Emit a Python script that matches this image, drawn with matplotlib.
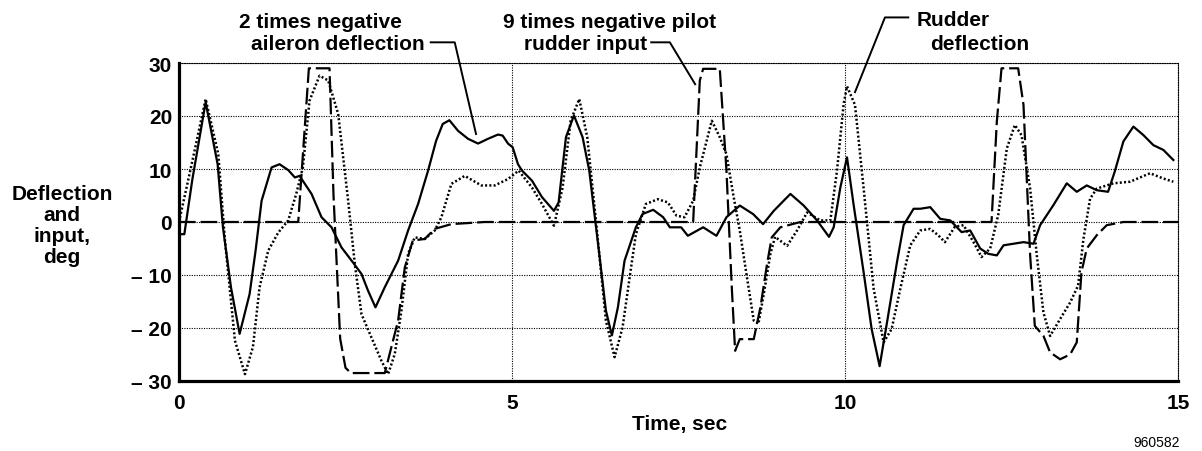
import numpy as np
import matplotlib
matplotlib.use("Agg")
import matplotlib.pyplot as plt
from matplotlib.ticker import FuncFormatter

plt.rcParams['font.family'] = ['Liberation Sans', 'DejaVu Sans']

# 2 times negative aileron deflection (solid)
aileron_t = [0, 0.08, 0.2, 0.4, 0.58, 0.66, 0.78, 0.91, 1.06, 1.15, 1.24, 1.39, 1.51,
             1.64, 1.74, 1.81, 1.99, 2.14, 2.29, 2.44, 2.61, 2.74, 2.84, 2.95, 3.09,
             3.29, 3.44, 3.59, 3.74, 3.86, 3.96, 4.06, 4.19, 4.34, 4.49, 4.64, 4.79,
             4.86, 4.94, 5.01, 5.09, 5.15, 5.3, 5.45, 5.63, 5.7, 5.81, 5.93, 6.06,
             6.16, 6.31, 6.41, 6.5, 6.59, 6.69, 6.86, 6.96, 7.12, 7.27, 7.37, 7.54,
             7.64, 7.87, 8.07, 8.22, 8.42, 8.62, 8.77, 8.93, 9.18, 9.38, 9.58, 9.76,
             9.83, 9.93, 10.03, 10.13, 10.28, 10.4, 10.52, 10.63, 10.78, 10.88, 11.03,
             11.13, 11.28, 11.43, 11.58, 11.75, 11.88, 12.03, 12.15, 12.28, 12.38,
             12.53, 12.68, 12.83, 12.93, 13.13, 13.33, 13.48, 13.63, 13.78, 13.95,
             14.05, 14.18, 14.33, 14.48, 14.63, 14.78, 14.93]
aileron_v = [-2.3, -2.3, 8, 22.6, 10.9, -1, -12.3, -21.1, -13.6, -5.4, 4, 10.3, 10.9,
             9.8, 8.4, 8.7, 5.3, 0.9, -1, -4.8, -7.6, -9.8, -13, -16.1, -12.3,
             -7.3, -1.6, 3.4, 9.7, 15.3, 18.5, 19.2, 17.2, 15.7, 14.8, 15.7, 16.5,
             16.3, 14.8, 14.1, 10.9, 9.7, 7.8, 4.7, 2.1, 3.7, 16, 20.1, 16,
             9.7, -6, -16.7, -21.4, -16.1, -7.3, -1, 1.5, 2.3, 0.9, -1, -1,
             -2.6, -1, -2.6, 0.9, 3.1, 1.5, -0.4, 2.1, 5.3, 3.1, 0.3, -2.8,
             -1, 6.5, 12.2, 3.2, -9.5, -20.2, -27.2, -19, -7.6, -0.6, 2.5,
             2.5, 2.8, 0.6, 0.3, -1.9, -1.6, -5, -6, -6.3, -4.4,
             -4.1, -3.8, -4.1, -0.6, 3.2, 7.3, 5.7, 6.9, 6, 5.7,
             9.5, 15.2, 18, 16.4, 14.5, 13.6, 11.7]

# Rudder deflection (dotted)
rudder_t = [0, 0.19, 0.4, 0.59, 0.69, 0.84, 0.99, 1.11, 1.21, 1.34, 1.49, 1.64, 1.76,
            1.86, 1.96, 2.11, 2.24, 2.39, 2.54, 2.64, 2.74, 2.89, 3.04, 3.14, 3.24,
            3.34, 3.44, 3.54, 3.69, 3.84, 3.94, 4.09, 4.29, 4.54, 4.74, 4.94, 5.1,
            5.3, 5.45, 5.63, 5.76, 5.88, 6.01, 6.13, 6.26, 6.41, 6.54, 6.66, 6.76,
            6.86, 7.01, 7.19, 7.34, 7.47, 7.59, 7.72, 7.82, 8.0, 8.12, 8.22, 8.32,
            8.42, 8.52, 8.63, 8.7, 8.78, 8.88, 8.95, 9.13, 9.28, 9.43, 9.63, 9.78,
            9.88, 9.98, 10.03, 10.15, 10.28, 10.43, 10.58, 10.7, 10.83, 10.98, 11.13,
            11.28, 11.4, 11.5, 11.65, 11.78, 11.93, 12.05, 12.18, 12.3, 12.43, 12.55,
            12.65, 12.78, 12.88, 12.98, 13.08, 13.23, 13.38, 13.5, 13.58, 13.68,
            13.78, 14.03, 14.28, 14.58, 14.78, 14.93]
rudder_v = [0, 10.9, 23.2, 12.8, -3.5, -22.4, -28.7, -23.6, -12.3, -5.4, -2, 0.3, 5.3,
            10.3, 22.9, 27.6, 26.7, 20.4, 4, -7.9, -17.4, -21.8, -26.2, -28.7, -24.9,
            -16.7, -6, -2.9, -3.2, -1.6, 0.9, 7.2, 8.7, 6.9, 6.9, 8.1, 9.7,
            6.5, 3.4, -0.7, 6.5, 19.1, 23.2, 16, 0.3, -18.6, -25.5, -19.9, -11,
            -2.3, 3.4, 4.3, 3.7, 1.2, 0.9, 4, 10.3, 19.1, 16, 12.8, 5.3,
            -1.6, -9.8, -18.6, -19.2, -13.6, -6, -2.8, -4.5, -1.6, 1.8, 0.3, 0.3,
            9.7, 22.3, 25.6, 22.1, 6.3, -12.6, -22.7, -20.2, -12.6, -4.4, -1.6,
            -1.3, -2.5, -3.8, -0.9, -0.6, -3.8, -6.6, -5, 1.3, 13.9, 18.3,
            16.4, 6.3, -6.3, -17.1, -21.5, -18.3, -15.2, -12, -3.2, 4.4,
            6.3, 7.3, 7.6, 9.2, 8.2, 7.6]

# 9 times negative pilot rudder input (dashed)
pilot_t = [0, 1.79, 1.95, 2.26, 2.32, 2.42, 2.5, 2.58, 3.09, 3.29, 3.39, 3.51, 3.69,
           3.84, 4.09, 4.59, 7.72, 7.82, 7.87, 8.12, 8.22, 8.3, 8.35, 8.42, 8.63,
           8.73, 8.83, 8.9, 9.03, 9.33, 12.2, 12.28, 12.35, 12.6, 12.68, 12.78,
           12.85, 12.98, 13.08, 13.23, 13.38, 13.48, 13.55, 13.63, 13.78, 13.93,
           14.18, 15.0]
pilot_v = [0, 0, 29, 29, 5, -22, -27.5, -28.5, -28.5, -18.6, -8.6, -3.5, -3.2,
           -1.3, -0.4, 0, 0, 26.7, 28.9, 28.9, 9.7, -12.3, -24.3, -22.1, -22.1,
           -16.1, -7.9, -2.9, -1, 0, 0, 19, 29, 29, 22.1, -6.3,
           -19.6, -21.5, -24.6, -25.9, -25, -22.7, -9.5, -5, -2.5, -0.6,
           0, 0]

yticks = [-30, -20, -10, 0, 10, 20, 30]
xticks = [0, 5, 10, 15]

fig = plt.figure(figsize=(12.02, 4.52), dpi=100)
ax = fig.add_axes([179 / 1202, 1 - 382 / 452, (1178 - 179) / 1202, (382 - 64) / 452])

ax.plot(aileron_t, aileron_v, color='black', lw=1.6, solid_joinstyle='round')
ax.plot(rudder_t, rudder_v, color='black', lw=1.8, linestyle=(0, (0.8, 0.9)))
ax.plot(pilot_t, pilot_v, color='black', lw=1.6, linestyle=(0, (7.5, 2.2)))

ax.set_xlim(0, 15)
ax.set_ylim(-30, 30)
ax.set_xticks(xticks)
ax.set_yticks(yticks)
ax.yaxis.set_major_formatter(FuncFormatter(
    lambda v, p: ('\u2013 %d' % abs(v)) if v < 0 else '%d' % v))
ax.tick_params(length=0, labelsize=15, pad=5)
ax.tick_params(axis='x', pad=9)
for lab in ax.get_xticklabels() + ax.get_yticklabels():
    lab.set_fontweight('bold')

ax.grid(True, color='black', lw=0.8, linestyle=(0, (1, 1.2)))
for side in ['left', 'bottom']:
    ax.spines[side].set_linewidth(2.3)
for side in ['top', 'right']:
    ax.spines[side].set_linewidth(0.8)
    ax.spines[side].set_linestyle((0, (1, 1.2)))

# labels
fig.text(62 / 1202, 1 - 226 / 452, 'Deflection\nand\ninput,\ndeg', ha='center',
         va='center', fontsize=15, fontweight='bold', linespacing=1.15)
fig.text(680 / 1202, 1 - 425 / 452, 'Time, sec', ha='center', va='center',
         fontsize=15, fontweight='bold')
fig.text(1180 / 1202, 1 - 443 / 452, '960582', ha='right', va='center', fontsize=10)

# annotations with leader lines
ann = dict(fontsize=15, fontweight='bold', ha='center', va='center')
ax.text(2.12, 37.9, '2 times negative', **ann)
ax.text(2.39, 33.7, 'aileron deflection', **ann)
ax.plot([3.78, 4.14, 4.46], [33.9, 33.9, 16.6], color='black', lw=1.4, clip_on=False)

ax.text(6.46, 37.9, '9 times negative pilot', **ann)
ax.text(6.11, 33.7, 'rudder input', **ann)
ax.plot([7.09, 7.37, 7.75], [33.9, 33.9, 26], color='black', lw=1.4, clip_on=False)

ax.text(11.62, 38.3, 'Rudder', **ann)
ax.text(12.02, 33.7, 'deflection', **ann)
ax.plot([10.95, 10.6, 10.15], [38.6, 38.6, 24.5], color='black', lw=1.4, clip_on=False)

fig.savefig('out.png', dpi=100)
